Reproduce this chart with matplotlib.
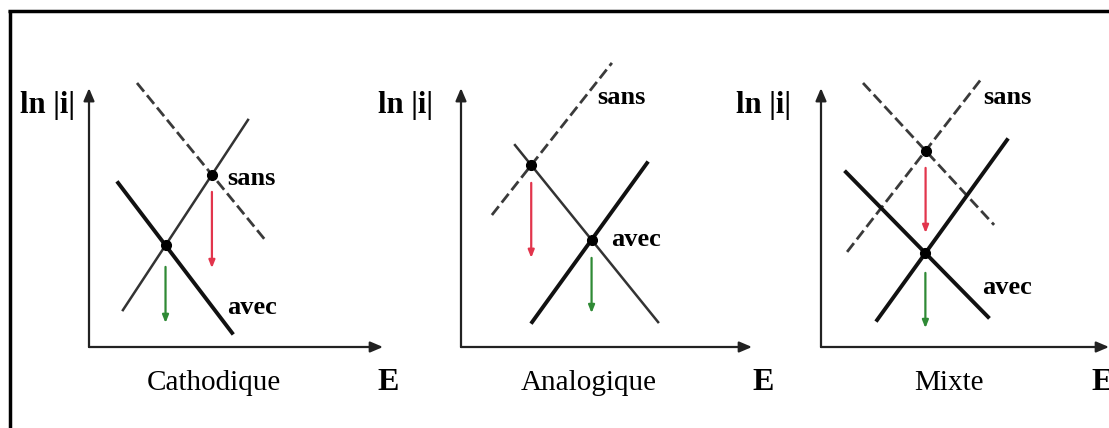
import numpy as np
import matplotlib.pyplot as plt

plt.close("all")

# Schematic Evans diagrams (E, ln|i|) for three inhibitor types.
# Each polarisation line is given by two points: ([E0, E1], [lnI0, lnI1]).
titles = ['Cathodique', 'Analogique', 'Mixte']

# cathodic branch without / with inhibitor
cath_sans = [([1.6, 5.87], [8.8, 3.57]),
             ([1.8, 6.57], [6.73, 0.83]),
             ([1.4, 5.77], [8.8, 4.07])]
cath_avec = [([0.97, 4.77], [5.47, 0.47]),
             ([1.8, 6.57], [6.73, 0.83]),
             ([0.83, 5.57], [5.83, 1.0])]
# anodic branch without / with inhibitor
anod_sans = [([1.13, 5.3], [1.23, 7.57]),
             ([1.03, 5.03], [4.4, 9.47]),
             ([0.87, 5.37], [3.17, 8.97])]
anod_avec = [([1.13, 5.3], [1.23, 7.57]),
             ([2.37, 6.2], [0.83, 6.13]),
             ([1.87, 6.2], [0.9, 6.9])]

# drop of the corrosion current (tail, head) in ln|i|
red_drop = [(5.17, 2.63), (5.47, 2.97), (5.97, 3.8)]
green_drop = [(2.67, 0.8), (2.97, 1.13), (2.47, 0.63)]

# length of the E axis arrow in each panel
e_axis_len = [9.8, 9.7, 9.6]
i_axis_len = 8.63

W, H = 1109, 428
PX = 30.0                      # pixels per schematic unit
origins = [(89, 347), (461, 347), (821, 347)]
ylab_x = [-0.47, -0.93, -1.0]
e_lab_x = [9.63, 9.73, 9.03]
sans_xy = [(4.6, 5.63), (4.53, 8.3), (5.4, 8.33)]
avec_xy = [(4.6, 1.3), (5.0, 3.57), (5.37, 1.97)]
title_x = [4.17, 4.27, 4.27]

serif = ['Liberation Serif', 'DejaVu Serif']


def fit(seg):
    (x0, x1), (y0, y1) = seg
    m = (y1 - y0) / (x1 - x0)
    return m, y0 - m * x0


def crossing(a, b):
    m1, c1 = fit(a)
    m2, c2 = fit(b)
    x = (c2 - c1) / (m1 - m2)
    return x, m1 * x + c1


def draw_seg(ax, seg, style):
    xs, ys = seg
    if style == 'dashed':
        ax.plot(xs, ys, color='#3a3a3a', lw=2.0, dashes=(4, 1.7), dash_capstyle='butt')
    elif style == 'thick':
        ax.plot(xs, ys, color='#111111', lw=2.8)
    else:
        ax.plot(xs, ys, color='#333333', lw=1.8)


fig = plt.figure(figsize=(W / 100, H / 100), dpi=100)

# frame around the figure (left and top edges visible)
fig.add_artist(plt.Line2D([9.5 / W, 9.5 / W], [0, 1 - 10 / H], color='black', lw=2.5,
                          solid_capstyle='butt'))
fig.add_artist(plt.Line2D([8.0 / W, 1], [1 - 11 / H, 1 - 11 / H], color='black', lw=2.5,
                          solid_capstyle='butt'))

for k in range(3):
    ox, oy = origins[k]
    x_lo, x_hi, y_lo, y_hi = -3.0, 10.5, -2.5, 10.5
    left = (ox + x_lo * PX) / W
    bottom = (H - (oy - y_lo * PX)) / H
    ax = fig.add_axes([left, bottom, (x_hi - x_lo) * PX / W, (y_hi - y_lo) * PX / H])
    ax.set_xlim(x_lo, x_hi)
    ax.set_ylim(y_lo, y_hi)
    ax.axis('off')
    ax.patch.set_alpha(0)

    # axes with arrow heads
    arrow = dict(arrowstyle='-|>,head_length=0.75,head_width=0.32', color='#222222',
                 lw=1.6, shrinkA=0, shrinkB=0)
    ax.annotate('', xy=(e_axis_len[k], 0), xytext=(0, 0), arrowprops=arrow, annotation_clip=False)
    ax.annotate('', xy=(0, i_axis_len), xytext=(0, 0), arrowprops=arrow, annotation_clip=False)

    # polarisation lines
    if k == 0:
        draw_seg(ax, cath_sans[k], 'dashed')
        draw_seg(ax, cath_avec[k], 'thick')
        draw_seg(ax, anod_sans[k], 'thin')
    elif k == 1:
        draw_seg(ax, anod_sans[k], 'dashed')
        draw_seg(ax, anod_avec[k], 'thick')
        draw_seg(ax, cath_sans[k], 'thin')
    else:
        draw_seg(ax, cath_sans[k], 'dashed')
        draw_seg(ax, anod_sans[k], 'dashed')
        draw_seg(ax, cath_avec[k], 'thick')
        draw_seg(ax, anod_avec[k], 'thick')

    # corrosion points
    p_sans = crossing(cath_sans[k], anod_sans[k])
    p_avec = crossing(cath_avec[k], anod_avec[k])
    for p in (p_sans, p_avec):
        ax.plot(p[0], p[1], 'o', color='black', ms=7)

    small = dict(arrowstyle='-|>,head_length=0.45,head_width=0.18', lw=1.6,
                 shrinkA=0, shrinkB=0)
    ax.annotate('', xy=(p_sans[0], red_drop[k][1]), xytext=(p_sans[0], red_drop[k][0]),
                arrowprops=dict(small, color='#e2354c'))
    ax.annotate('', xy=(p_avec[0], green_drop[k][1]), xytext=(p_avec[0], green_drop[k][0]),
                arrowprops=dict(small, color='#2f8a35'))

    # labels
    ax.text(*sans_xy[k], 'sans', family=serif, fontsize=19, fontweight='bold',
            ha='left', va='center')
    ax.text(*avec_xy[k], 'avec', family=serif, fontsize=19, fontweight='bold',
            ha='left', va='center')
    ax.text(ylab_x[k], 8.05, 'ln |i|', family=serif, fontsize=22, fontweight='bold',
            ha='right', va='center')
    ax.text(e_lab_x[k], -1.17, 'E', family=serif, fontsize=23, fontweight='bold',
            ha='left', va='center')
    ax.text(title_x[k], -1.2, titles[k], family=serif, fontsize=21,
            ha='center', va='center')

fig.savefig('out.png', dpi=100)
